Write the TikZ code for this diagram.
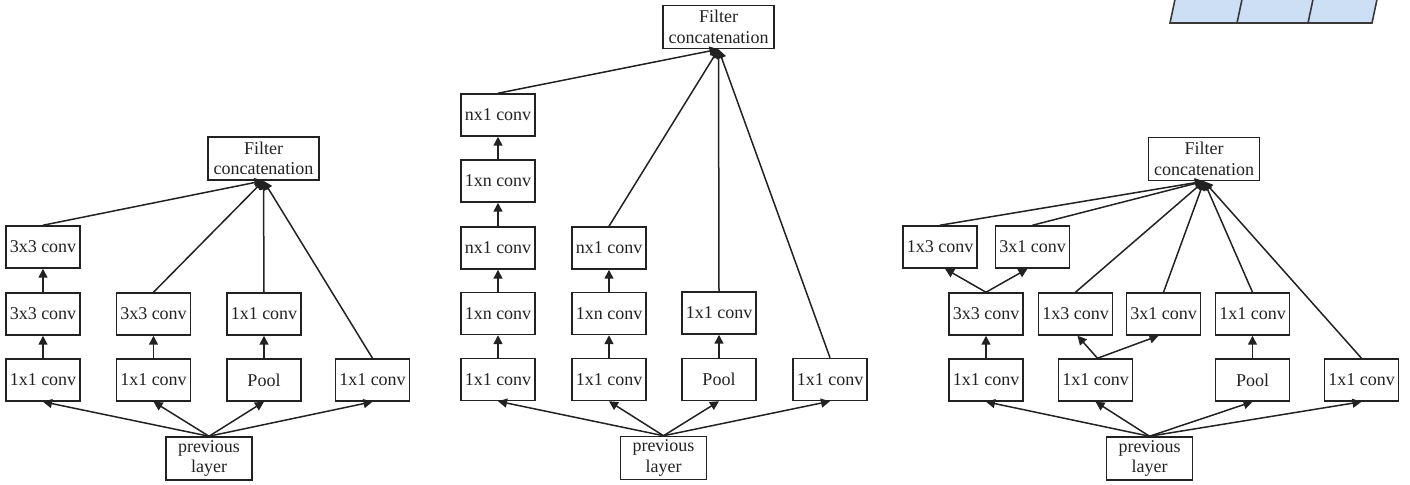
\documentclass[tikz,border=0pt]{standalone}
\usepackage{fontspec}
\setmainfont{Liberation Serif}
\usetikzlibrary{arrows.meta}
\definecolor{ink}{HTML}{222222}
\definecolor{cellblue}{HTML}{CCDFF5}
\tikzset{
  blk/.style={draw=ink, text=ink, line width=0.75pt, minimum width=37pt, minimum height=21pt,
    inner sep=0pt, font=\fontsize{9}{10.3}\selectfont, align=center},
  wide/.style={blk, minimum width=55.5pt, minimum height=21.5pt},
  prev/.style={blk, minimum width=43pt, minimum height=21.5pt},
  arr/.style={draw=ink, line width=0.75pt, -{Triangle[length=4.5pt,width=4.5pt]}},
  ln/.style={draw=ink, line width=0.75pt}
}
\begin{document}
\begin{tikzpicture}[x=0.5pt,y=-0.5pt]
\useasboundingbox (0,0) rectangle (1410,485);
% top-right partial cells
\begin{scope}
\clip (0,0) rectangle (1410,485);
\draw[fill=cellblue, draw=ink!90, line width=0.8pt] (1170,23) -- (1372,23) -- (1379,-10) -- (1177,-10) -- cycle;
\draw[draw=ink!90, line width=0.8pt] (1237,23) -- (1244,-10) (1308,23) -- (1315,-10);
\end{scope}

% ---------- left module ----------
\node[wide] (LF) at (263.5,158.5) {Filter\\concatenation};
\node[blk] (L1a) at (43,247) {3x3 conv};
\node[blk] (L1b) at (43,314) {3x3 conv};
\node[blk] (L2b) at (153.5,314) {3x3 conv};
\node[blk] (L3b) at (264,314) {1x1 conv};
\node[blk] (L1c) at (43,380) {1x1 conv};
\node[blk] (L2c) at (153.5,380) {1x1 conv};
\node[blk] (L3c) at (264,380) {Pool};
\node[blk] (L4c) at (372.5,380) {1x1 conv};
\node[prev] (LP) at (209,458.5) {previous\\layer};
\foreach \b in {L1c,L2c,L3c,L4c} \draw[arr] (LP.north) -- (\b.south);
\draw[arr] (L1c) -- (L1b);
\draw[arr] (L1b) -- (L1a);
\draw[arr] (L2c) -- (L2b);
\draw[arr] (L3c) -- (L3b);
\foreach \b in {L1a,L2b,L3b,L4c} \draw[arr] (\b.north) -- (LF.south);

% ---------- middle module ----------
\node[wide] (MF) at (718.5,27) {Filter\\concatenation};
\node[blk] (M1a) at (498,115) {nx1 conv};
\node[blk] (M1b) at (498,181) {1xn conv};
\node[blk] (M1c) at (498,248) {nx1 conv};
\node[blk] (M2c) at (609,248) {nx1 conv};
\node[blk] (M1d) at (498,313.5) {1xn conv};
\node[blk] (M2d) at (609,313.5) {1xn conv};
\node[blk] (M3d) at (719,313) {1x1 conv};
\node[blk] (M1e) at (498,379.5) {1x1 conv};
\node[blk] (M2e) at (609,379.5) {1x1 conv};
\node[blk] (M3e) at (719,379.5) {Pool};
\node[blk] (M4e) at (830,379.5) {1x1 conv};
\node[prev] (MP) at (663.5,458) {previous\\layer};
\foreach \b in {M1e,M2e,M3e,M4e} \draw[arr] (MP.north) -- (\b.south);
\draw[arr] (M1e) -- (M1d);
\draw[arr] (M1d) -- (M1c);
\draw[arr] (M1c) -- (M1b);
\draw[arr] (M1b) -- (M1a);
\draw[arr] (M2e) -- (M2d);
\draw[arr] (M2d) -- (M2c);
\draw[arr] (M3e) -- (M3d);
\foreach \b in {M1a,M2c,M3d,M4e} \draw[arr] (\b.north) -- (MF.south);

% ---------- right module ----------
\node[wide] (RF) at (1204,159) {Filter\\concatenation};
\node[blk] (R1a) at (940,247) {1x3 conv};
\node[blk] (R2a) at (1032.5,247) {3x1 conv};
\node[blk] (R1b) at (986,314) {3x3 conv};
\node[blk] (R2b) at (1075.5,314) {1x3 conv};
\node[blk] (R3b) at (1163.5,314) {3x1 conv};
\node[blk] (R4b) at (1252.5,314) {1x1 conv};
\node[blk] (R1c) at (986,380) {1x1 conv};
\node[blk] (R2c) at (1095.5,380) {1x1 conv};
\node[blk] (R3c) at (1252.5,380) {Pool};
\node[blk] (R4c) at (1361.5,380) {1x1 conv};
\node[prev] (RP) at (1149.5,458.5) {previous\\layer};
\foreach \b in {R1c,R2c,R3c,R4c} \draw[arr] (RP.north) -- (\b.south);
\draw[arr] (R1c) -- (R1b);
\draw[arr] (R3c) -- (R4b);
\draw[arr] (R1b.north) -- ([xshift=2.5pt]R1a.south);
\draw[arr] (R1b.north) -- ([xshift=-2.5pt]R2a.south);
\draw[arr] ([xshift=1pt]R2c.north) -- ([xshift=1pt]R2b.south);
\draw[arr] ([xshift=1pt]R2c.north) -- ([xshift=-2.5pt]R3b.south);
\foreach \b in {R1a,R2a,R2b,R3b,R4b,R4c} \draw[arr] (\b.north) -- (RF.south);
\end{tikzpicture}
\end{document}
